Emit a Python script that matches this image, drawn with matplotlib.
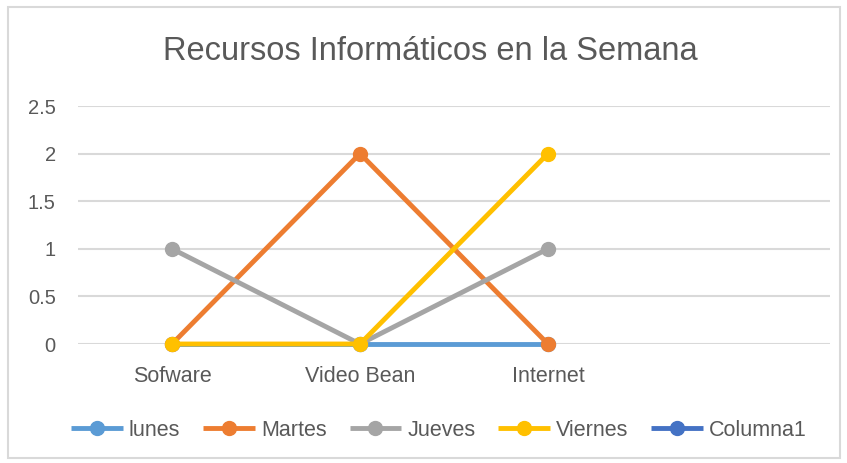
import numpy as np
import matplotlib
matplotlib.use("Agg")
import matplotlib.pyplot as plt
from matplotlib.patches import Rectangle

# data
categories = ["Sofware", "Video Bean", "Internet", ""]
lunes = [0, 0, 0, np.nan]
martes = [0, 2, 0, np.nan]
jueves = [1, 0, 1, np.nan]
viernes = [0, 0, 2, np.nan]
columna1 = [np.nan, np.nan, np.nan, np.nan]
y_ticks = [0, 0.5, 1, 1.5, 2, 2.5]
y_labels = ["0", "0.5", "1", "1.5", "2", "2.5"]

series = [
    ("lunes", lunes, "#5B9BD5"),
    ("Martes", martes, "#ED7D31"),
    ("Jueves", jueves, "#A5A5A5"),
    ("Viernes", viernes, "#FFC000"),
    ("Columna1", columna1, "#4472C4"),
]

plt.rcParams['font.family'] = ['Liberation Sans', 'DejaVu Sans']
text_color = "#595959"

fig = plt.figure(figsize=(8.47, 4.63), dpi=100)
ax = fig.add_axes([78 / 847, 1 - 344 / 463, (830 - 78) / 847, (344 - 106) / 463])

x = np.arange(len(categories))
for name, vals, col in series:
    ax.plot(x, vals, color=col, lw=3.5, marker="o", markersize=10,
            solid_capstyle="butt", label=name, zorder=3, clip_on=False)

ax.set_xlim(-0.5, len(categories) - 0.5)
ax.set_ylim(0, 2.5)
ax.set_xticks(x)
ax.set_xticklabels(categories, fontsize=15.5, color=text_color)
ax.set_yticks(y_ticks)
ax.set_yticklabels(y_labels, fontsize=14.5, color=text_color)
ax.tick_params(axis="both", length=0)
ax.tick_params(axis="x", pad=16)
ax.tick_params(axis="y", pad=16)
ax.grid(axis="y", color="#D9D9D9", lw=1.5, zorder=0)
for s in ax.spines.values():
    s.set_visible(False)

fig.text(430 / 847, 1 - 52 / 463, "Recursos Informáticos en la Semana",
         ha="center", va="center", fontsize=23.5, color=text_color)

leg = fig.legend(loc="center", bbox_to_anchor=(439 / 847, 1 - 430 / 463), ncol=5,
                 frameon=False, handlelength=2.4, handletextpad=0.28,
                 columnspacing=1.07, fontsize=15.5)
for t in leg.get_texts():
    t.set_color(text_color)

# chart border
fig.patches.append(Rectangle((8 / 847, 1 - 458 / 463), (840 - 8) / 847, (458 - 7) / 463,
                             transform=fig.transFigure, fill=False,
                             edgecolor="#D9D9D9", lw=1.5))

fig.savefig("out.png", dpi=100)
